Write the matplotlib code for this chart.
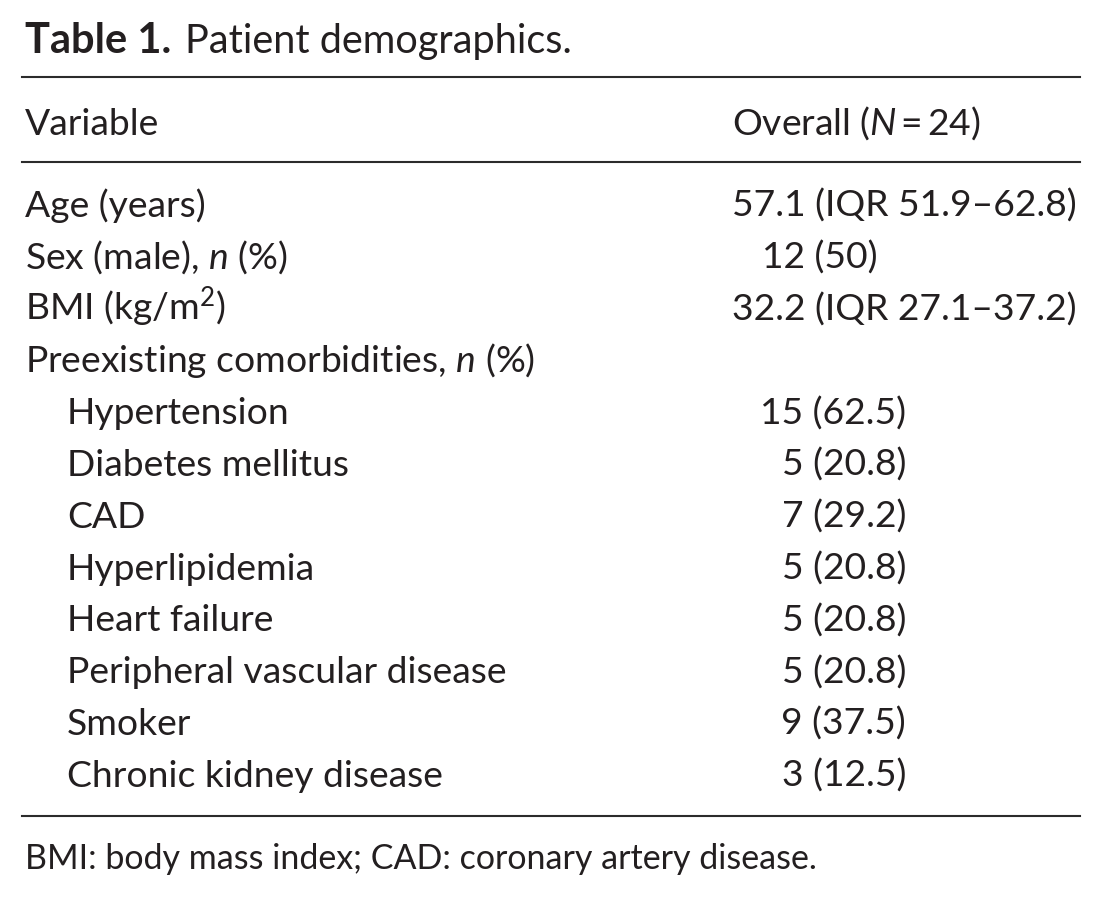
import matplotlib
matplotlib.use("Agg")
import matplotlib.pyplot as plt
from matplotlib.lines import Line2D

plt.rcParams['font.family'] = ['Lato', 'DejaVu Sans']
plt.rcParams['mathtext.fontset'] = 'custom'
plt.rcParams['mathtext.rm'] = 'Lato'
plt.rcParams['mathtext.it'] = 'Lato:italic'

# ---- data ----
title_bold = "Table 1."
title_rest = "Patient demographics."
col_headers = ["Variable", "Overall ($N$\u2009=\u200924)"]
variables = ["Age (years)", "Sex (male), $n$ (%)", "BMI (kg/m$^{2}$)",
             "Preexisting comorbidities, $n$ (%)",
             "Hypertension", "Diabetes mellitus", "CAD", "Hyperlipidemia",
             "Heart failure", "Peripheral vascular disease", "Smoker",
             "Chronic kidney disease"]
values = ["57.1 (IQR 51.9\u201362.8)", "12 (50)", "32.2 (IQR 27.1\u201337.2)", "",
          "15 (62.5)", "5 (20.8)", "7 (29.2)", "5 (20.8)", "5 (20.8)",
          "5 (20.8)", "9 (37.5)", "3 (12.5)"]
indented = [False, False, False, False, True, True, True, True, True, True, True, True]
footnote = "BMI: body mass index; CAD: coronary artery disease."

# ---- layout (pixels) ----
W, H = 1105, 904
fig = plt.figure(figsize=(W / 100, H / 100), dpi=100)
fig.patch.set_facecolor("white")
ax = fig.add_axes([0, 0, 1, 1])
ax.set_xlim(0, W)
ax.set_ylim(H, 0)
ax.axis("off")

TXT = "#231f20"
FS = 26.8
FS_TB = 30
FS_T = 28.5
FS_F = 24.5
x0, x_ind = 25, 67
x_val_left, x_val_right = 732, 906

# title
ax.text(x0, 53, title_bold, fontsize=FS_TB, fontweight="bold", color=TXT, va="baseline")
ax.text(185, 53, title_rest, fontsize=FS_T, color=TXT, va="baseline")

# rules
for y in (78, 163, 817):
    ax.add_line(Line2D([22, 1080], [y, y], color="#2b2b2b", lw=1.5))

# header
ax.text(x0, 135, col_headers[0], fontsize=FS, color=TXT, va="baseline")
ax.text(x_val_left, 135, col_headers[1], fontsize=FS, color=TXT, va="baseline")

# body rows
base0, pitch = 217, 51.8
for i, (var, val, ind) in enumerate(zip(variables, values, indented)):
    yb = base0 + i * pitch
    ax.text(x_ind if ind else x0, yb, var, fontsize=FS, color=TXT, va="baseline")
    if not val:
        continue
    if ind:
        ax.text(x_val_right, yb, val, fontsize=FS, color=TXT, va="baseline", ha="right")
    elif val.startswith("12"):
        ax.text(x_val_left + 30, yb, val, fontsize=FS, color=TXT, va="baseline")
    else:
        ax.text(x_val_left, yb, val, fontsize=FS, color=TXT, va="baseline")

ax.text(x0, 869, footnote, fontsize=FS_F, color=TXT, va="baseline")

fig.savefig("out.png", dpi=100, facecolor="white")
